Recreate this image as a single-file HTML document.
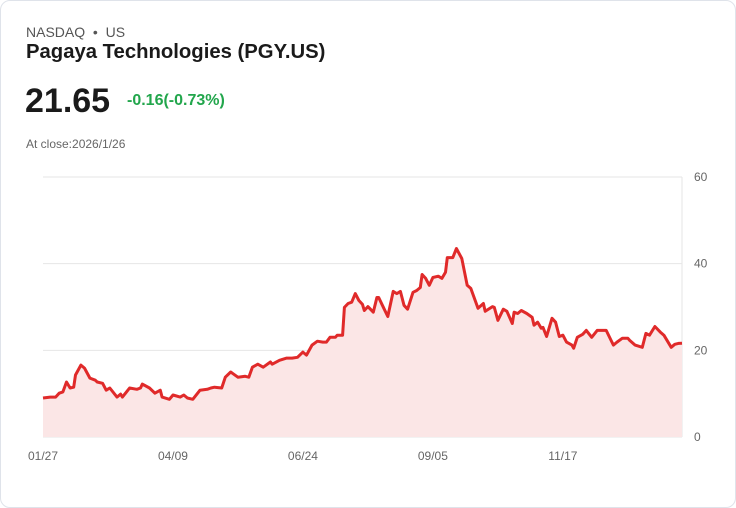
<!DOCTYPE html>
<html><head><meta charset="utf-8"><style>
body{margin:0;background:#fff;font-family:"Liberation Sans",sans-serif;}
#card{position:absolute;left:0;top:0;width:734px;height:506px;border:1px solid #dfe3ea;border-radius:10px;background:#fff;}
.t{position:absolute;white-space:nowrap;}
</style></head><body>
<div id="card">
<div class="t" style="left:25px;top:23px;font-size:14px;color:#555;">NASDAQ &nbsp;•&nbsp; US</div>
<div class="t" style="left:25px;top:40px;font-size:20.3px;font-weight:bold;color:#1a1a1a;">Pagaya Technologies (PGY.US)</div>
<div class="t" style="left:24px;top:81px;font-size:34px;font-weight:bold;color:#1a1a1a;">21.65</div>
<div class="t" style="left:126px;top:91px;font-size:16px;font-weight:bold;color:#22a64c;">-0.16(-0.73%)</div>
<div class="t" style="left:25px;top:136px;font-size:12px;color:#666;">At close:2026/1/26</div>
<svg id="chart" width="736" height="508" style="position:absolute;left:-1px;top:-1px;"></svg>
</div>
<script>
const days=[0,4,7,9,11,13,15,17,18,21,23,26,29,30,33,35,37,41,43,44,48,52,54,55,59,62,65,66,70,72,76,78,80,83,87,91,93,95,99,101,104,105,108,112,114,116,119,122,126,127,131,135,138,141,144,146,149,152,155,157,159,162,163,166,167,169,171,173,175,177,178,180,183,185,186,188,191,194,196,198,200,202,205,207,209,210,212,214,216,219,221,223,224,227,229,232,235,237,241,244,245,249,250,252,255,257,260,261,263,265,268,271,272,274,276,277,279,282,284,286,288,290,293,294,296,299,301,304,307,312,316,318,321,324,325,328,332,334,336,339,342,344,348,350,352,354];
const prices=[9.0,9.2,9.2,10.1,10.4,12.7,11.3,11.5,14.3,16.6,15.9,13.6,13.1,12.7,12.4,10.8,11.3,9.2,9.9,9.2,11.3,11.0,11.3,12.2,11.3,10.1,10.8,9.2,8.7,9.7,9.2,9.7,9.0,8.7,10.8,11.0,11.3,11.5,11.3,13.8,15.0,14.7,13.8,14.0,13.8,16.1,16.8,16.1,17.3,16.8,17.7,18.2,18.2,18.4,19.6,18.9,21.2,22.1,21.9,21.9,23.0,23.0,23.5,23.5,29.9,30.8,31.1,33.1,31.5,30.6,29.2,30.1,28.8,32.2,32.2,30.4,27.8,33.6,33.1,33.6,30.4,29.5,33.4,33.8,34.5,37.5,36.6,35.0,36.8,37.1,36.6,38.0,41.4,41.4,43.5,41.2,35.0,34.3,29.7,30.8,29.0,30.1,29.9,26.9,29.5,29.0,26.2,28.8,28.5,29.2,28.5,27.6,25.8,26.5,25.1,25.3,23.2,27.4,26.5,23.2,23.5,21.9,21.2,20.5,23.0,23.7,24.6,23.0,24.6,24.6,21.2,21.9,22.8,22.8,22.3,21.2,20.7,23.9,23.5,25.5,24.2,23.5,20.7,21.4,21.6,21.65];
const yTicks=[0,20,40,60];
const xLabels=["01/27","04/09","06/24","09/05","11/17"];
const xLabelDays=[0,72,144,216,288];
const X0=43,X1=682,Y0=437,Y1=177,DMAX=354,VMAX=60;
const sx=d=>X0+(d/DMAX)*(X1-X0);
const sy=v=>Y0-(v/VMAX)*(Y0-Y1);
const NS="http://www.w3.org/2000/svg";
const svg=document.getElementById('chart');
function mk(t,a){const e=document.createElementNS(NS,t);for(const k in a)e.setAttribute(k,a[k]);svg.appendChild(e);return e;}
yTicks.forEach(v=>{
 const l=mk('line',{x1:X0,x2:X1,y1:sy(v),y2:sy(v),stroke:'#e6e6e6','stroke-width':1});
 
 
 const t=mk('text',{x:694,y:sy(v)+4,'font-size':12,fill:'#666','font-family':'Liberation Sans, sans-serif'});
 t.textContent=v;
 
 
});
const ax=mk('line',{x1:X1,x2:X1,y1:Y1,y2:Y0,stroke:'#e6e6e6','stroke-width':1});


xLabels.forEach((s,i)=>{
 const t=mk('text',{x:sx(xLabelDays[i]),y:460,'font-size':12,fill:'#666','text-anchor':'middle','font-family':'Liberation Sans, sans-serif'});
 t.textContent=s;
 
 
});
let d='';
days.forEach((dd,i)=>{d+=(i?'L':'M')+sx(dd).toFixed(1)+','+sy(prices[i]).toFixed(1);});
const area=mk('path',{d:d+'L'+sx(days[days.length-1])+','+Y0+'L'+sx(days[0])+','+Y0+'Z',fill:'#fbe6e6'});


const line=mk('path',{d:d,fill:'none',stroke:'#e02a2a','stroke-width':3,'stroke-linejoin':'round'});


</script>
</body></html>
